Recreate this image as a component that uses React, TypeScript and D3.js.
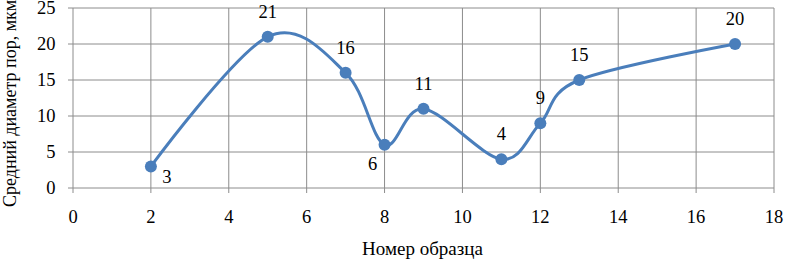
import React from "react";
import { scaleLinear, line, curveCardinal } from "d3";

const sampleNo = [2, 5, 7, 8, 9, 11, 12, 13, 17];
const poreSize = [3, 21, 16, 6, 11, 4, 9, 15, 20];
const xTicks = [0, 2, 4, 6, 8, 10, 12, 14, 16, 18];
const yTicks = [0, 5, 10, 15, 20, 25];
// label offsets from the point (Excel placed a couple of them oddly)
const labelPos = ["right", "above", "above", "left", "above", "above", "above", "above", "above"];

const W = 785;
const H = 261;
const LEFT = 73;
const RIGHT = 774;
const TOP = 8;
const BOTTOM = 188;
const BLUE = "#4a7ebb";
const GRID = "#8c8c8c";
const FONT = "'Liberation Serif', 'Times New Roman', serif";

export default function App() {
  const xScale = scaleLinear().domain([0, 18]).range([LEFT, RIGHT]);
  const yScale = scaleLinear().domain([0, 25]).range([BOTTOM, TOP]);

  const pts: [number, number][] = sampleNo.map((s, i) => [s, poreSize[i]]);

  const lineFn = line<[number, number]>()
    .x(d => xScale(d[0]))
    .y(d => yScale(d[1]))
    .curve(curveCardinal.tension(0));

  const txt = { fontFamily: FONT, fontSize: 18.5 };

  return (
    <svg
      width={W}
      height={H}
      style={{ position: "absolute", left: 0, top: 0, background: "#fff" }}
    >
      {/* grid */}
      <g>
        {yTicks.map(v => (
          <line
            key={"h" + v}
            x1={LEFT - 5}
            x2={RIGHT}
            y1={yScale(v)}
            y2={yScale(v)}
            stroke={GRID}
            strokeWidth={1}
          />
        ))}
        {xTicks.map(v => (
          <line
            key={"v" + v}
            x1={xScale(v)}
            x2={xScale(v)}
            y1={TOP}
            y2={BOTTOM + 5}
            stroke={GRID}
            strokeWidth={1}
          />
        ))}
      </g>

      {/* tick labels */}
      {xTicks.map(v => (
        <text key={"xt" + v} x={xScale(v)} y={222.5} textAnchor="middle" style={txt}>
          {v}
        </text>
      ))}
      {yTicks.map(v => (
        <text key={"yt" + v} x={55.5} y={yScale(v) + 6} textAnchor="end" style={txt}>
          {v}
        </text>
      ))}

      {/* series */}
      <path d={lineFn(pts)!} fill="none" stroke={BLUE} strokeWidth={3} strokeLinejoin="round" />
      {pts.map((d, i) => (
        <circle key={"c" + i} cx={xScale(d[0])} cy={yScale(d[1])} r={6} fill={BLUE} />
      ))}

      {/* data labels */}
      {pts.map((d, i) => {
        const px = xScale(d[0]);
        const py = yScale(d[1]);
        let x = px;
        let y = py - 19;
        if (labelPos[i] === "right") {
          x = px + 16;
          y = py + 17;
        } else if (labelPos[i] === "left") {
          x = px - 12;
          y = py + 25;
        }
        return (
          <text key={"l" + i} x={x} y={y} textAnchor="middle" style={txt}>
            {d[1]}
          </text>
        );
      })}

      {/* axis titles */}
      <text x={422.5} y={254.5} textAnchor="middle" style={{ ...txt, fontSize: 19 }}>
        Номер образца
      </text>
      <text transform={`translate(16, 207) rotate(-90)`} textAnchor="start" style={{ ...txt, fontSize: 18 }}>
        Средний диаметр пор, мкм
      </text>
    </svg>
  );
}
